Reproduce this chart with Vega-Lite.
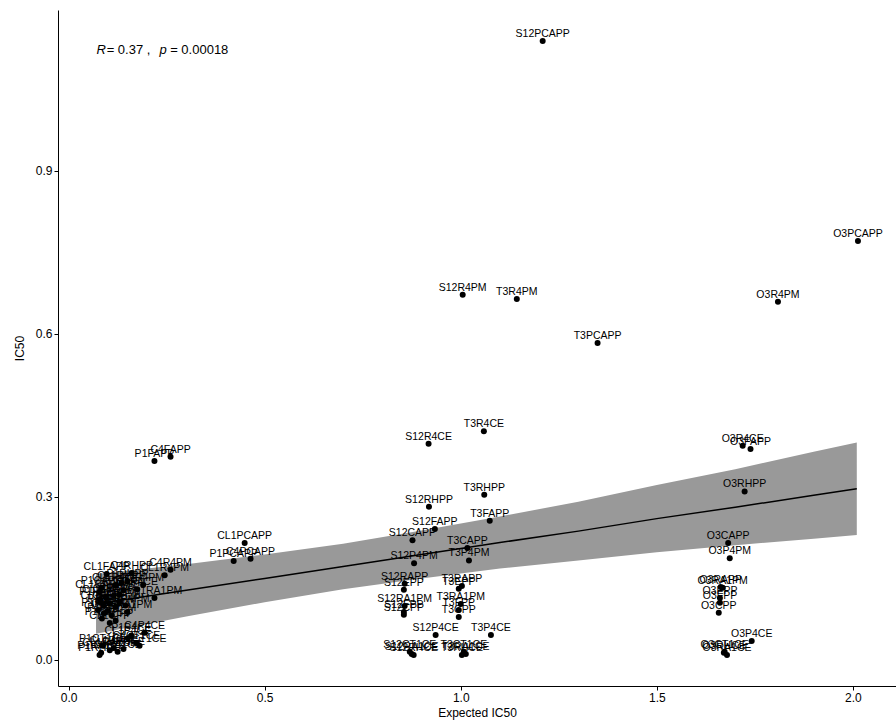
{
  "$schema": "https://vega.github.io/schema/vega-lite/v6.json",
  "width": 838,
  "height": 676,
  "autosize": {"type": "none"},
  "padding": {"left": 58, "top": 10, "right": 0, "bottom": 38},
  "background": "white",
  "config": {
    "view": {"stroke": null},
    "font": "Liberation Sans",
    "axis": {
      "grid": false,
      "domainColor": "#000000",
      "domainWidth": 1,
      "tickColor": "#000000",
      "tickWidth": 1,
      "tickSize": 4,
      "labelColor": "#000000",
      "labelFontSize": 12,
      "labelFont": "Liberation Sans",
      "labelPadding": 2,
      "titleColor": "#000000",
      "titleFontSize": 12,
      "titleFont": "Liberation Sans",
      "titleFontWeight": "normal"
    }
  },
  "datasets": {
    "pts": [
      {"label": "S12PCAPP", "x": 1.209, "y": 1.139},
      {"label": "S12R4PM", "x": 1.005, "y": 0.672},
      {"label": "S12R4CE", "x": 0.918, "y": 0.398},
      {"label": "S12RHPP", "x": 0.919, "y": 0.282},
      {"label": "S12FAPP", "x": 0.934, "y": 0.241},
      {"label": "S12CAPP", "x": 0.877, "y": 0.220},
      {"label": "S12P4PM", "x": 0.881, "y": 0.178},
      {"label": "S12RAPP", "x": 0.857, "y": 0.140},
      {"label": "S12EPP", "x": 0.855, "y": 0.129},
      {"label": "S12RA1PM", "x": 0.857, "y": 0.099},
      {"label": "S12FPP", "x": 0.855, "y": 0.088},
      {"label": "S12CPP", "x": 0.855, "y": 0.083},
      {"label": "S12P4CE", "x": 0.936, "y": 0.046},
      {"label": "S12CT1CE", "x": 0.870, "y": 0.015},
      {"label": "S12RA1CE", "x": 0.875, "y": 0.011},
      {"label": "S12RHCE", "x": 0.880, "y": 0.009},
      {"label": "T3PCAPP", "x": 1.349, "y": 0.583},
      {"label": "T3R4PM", "x": 1.143, "y": 0.664},
      {"label": "T3R4CE", "x": 1.059, "y": 0.421},
      {"label": "T3RHPP", "x": 1.060, "y": 0.304},
      {"label": "T3FAPP", "x": 1.074, "y": 0.256},
      {"label": "T3CAPP", "x": 1.017, "y": 0.206},
      {"label": "T3P4PM", "x": 1.021, "y": 0.183},
      {"label": "T3RAPP", "x": 1.003, "y": 0.136},
      {"label": "T3EPP", "x": 0.995, "y": 0.131},
      {"label": "T3RA1PM", "x": 1.000, "y": 0.103},
      {"label": "T3FPP", "x": 0.995, "y": 0.092},
      {"label": "T3CPP", "x": 0.995, "y": 0.079},
      {"label": "T3P4CE", "x": 1.077, "y": 0.046},
      {"label": "T3CT1CE", "x": 1.008, "y": 0.015},
      {"label": "T3RA1CE", "x": 1.013, "y": 0.011},
      {"label": "T3RHCE", "x": 1.003, "y": 0.009},
      {"label": "O3PCAPP", "x": 2.013, "y": 0.771},
      {"label": "O3R4PM", "x": 1.809, "y": 0.659},
      {"label": "O3R4CE", "x": 1.719, "y": 0.394},
      {"label": "O3FAPP", "x": 1.739, "y": 0.388},
      {"label": "O3RHPP", "x": 1.724, "y": 0.310},
      {"label": "O3CAPP", "x": 1.682, "y": 0.215},
      {"label": "O3P4PM", "x": 1.686, "y": 0.187},
      {"label": "O3RAPP", "x": 1.663, "y": 0.134},
      {"label": "O3RA1PM", "x": 1.668, "y": 0.133},
      {"label": "O3EPP", "x": 1.661, "y": 0.114},
      {"label": "O3FPP", "x": 1.661, "y": 0.105},
      {"label": "O3CPP", "x": 1.658, "y": 0.087},
      {"label": "O3P4CE", "x": 1.742, "y": 0.035},
      {"label": "O3CT1CE", "x": 1.673, "y": 0.015},
      {"label": "O3RA1CE", "x": 1.679, "y": 0.009},
      {"label": "O3RHCE", "x": 1.671, "y": 0.013},
      {"label": "P1PCAPP", "x": 0.421, "y": 0.182},
      {"label": "P1FAPP", "x": 0.219, "y": 0.366},
      {"label": "P1R4PM", "x": 0.190, "y": 0.138},
      {"label": "P1R4CE", "x": 0.130, "y": 0.120},
      {"label": "P1RHPP", "x": 0.150, "y": 0.145},
      {"label": "P1CAPP", "x": 0.084, "y": 0.133},
      {"label": "P1P4PM", "x": 0.120, "y": 0.098},
      {"label": "P1RAPP", "x": 0.080, "y": 0.112},
      {"label": "P1EPP", "x": 0.090, "y": 0.100},
      {"label": "P1RA1PM", "x": 0.110, "y": 0.082},
      {"label": "P1FPP", "x": 0.075, "y": 0.092},
      {"label": "P1CPP", "x": 0.085, "y": 0.076},
      {"label": "P1P4CE", "x": 0.160, "y": 0.045},
      {"label": "P1CT1CE", "x": 0.087, "y": 0.026},
      {"label": "P1RA1CE", "x": 0.083, "y": 0.013},
      {"label": "P1RHCE", "x": 0.079, "y": 0.009},
      {"label": "C4PCAPP", "x": 0.464, "y": 0.186},
      {"label": "C4FAPP", "x": 0.260, "y": 0.374},
      {"label": "C4R4PM", "x": 0.260, "y": 0.166},
      {"label": "C4RHPP", "x": 0.161, "y": 0.160},
      {"label": "C4R4CE", "x": 0.175, "y": 0.130},
      {"label": "C4CAPP", "x": 0.140, "y": 0.128},
      {"label": "C4P4PM", "x": 0.130, "y": 0.108},
      {"label": "C4RAPP", "x": 0.115, "y": 0.118},
      {"label": "C4EPP", "x": 0.105, "y": 0.104},
      {"label": "C4RA1PM", "x": 0.150, "y": 0.088},
      {"label": "C4FPP", "x": 0.100, "y": 0.090},
      {"label": "C4CPP", "x": 0.120, "y": 0.072},
      {"label": "C4P4CE", "x": 0.194, "y": 0.050},
      {"label": "C4CT1CE", "x": 0.173, "y": 0.031},
      {"label": "C4RA1CE", "x": 0.125, "y": 0.015},
      {"label": "C4RHCE", "x": 0.140, "y": 0.020},
      {"label": "CL1PCAPP", "x": 0.449, "y": 0.215},
      {"label": "CL1FAPP", "x": 0.097, "y": 0.158},
      {"label": "CL1R4PM", "x": 0.245, "y": 0.156},
      {"label": "CL1R4CE", "x": 0.120, "y": 0.138},
      {"label": "CL1RHPP", "x": 0.135, "y": 0.142},
      {"label": "CL1CAPP", "x": 0.078, "y": 0.125},
      {"label": "CL1P4PM", "x": 0.145, "y": 0.100},
      {"label": "CL1RAPP", "x": 0.095, "y": 0.115},
      {"label": "CL1EPP", "x": 0.082, "y": 0.105},
      {"label": "CL1RA1PM", "x": 0.219, "y": 0.114},
      {"label": "CL1FPP", "x": 0.090, "y": 0.086},
      {"label": "CL1CPP", "x": 0.105, "y": 0.068},
      {"label": "CL1P4CE", "x": 0.151, "y": 0.040},
      {"label": "CL1CT1CE", "x": 0.181, "y": 0.026},
      {"label": "CL1RA1CE", "x": 0.105, "y": 0.018},
      {"label": "CL1RHCE", "x": 0.115, "y": 0.022}
    ],
    "band": [
      {"x": 0.07, "fit": 0.103, "lo": 0.048, "hi": 0.158},
      {"x": 0.3, "fit": 0.128, "lo": 0.080, "hi": 0.176},
      {"x": 0.5, "fit": 0.150, "lo": 0.106, "hi": 0.194},
      {"x": 0.7, "fit": 0.172, "lo": 0.130, "hi": 0.214},
      {"x": 0.9, "fit": 0.194, "lo": 0.150, "hi": 0.238},
      {"x": 1.1, "fit": 0.216, "lo": 0.168, "hi": 0.264},
      {"x": 1.3, "fit": 0.237, "lo": 0.183, "hi": 0.291},
      {"x": 1.5, "fit": 0.260, "lo": 0.198, "hi": 0.322},
      {"x": 1.7, "fit": 0.281, "lo": 0.211, "hi": 0.351},
      {"x": 1.9, "fit": 0.303, "lo": 0.223, "hi": 0.383},
      {"x": 2.01, "fit": 0.315, "lo": 0.230, "hi": 0.400}
    ],
    "annItalic": [
      {"x": 0.071, "y": 1.123, "t": "R"},
      {"x": 0.232, "y": 1.123, "t": "p"}
    ],
    "annPlain": [
      {"x": 0.097, "y": 1.123, "t": "= 0.37 ,"},
      {"x": 0.259, "y": 1.123, "t": "= 0.00018"}
    ]
  },
  "layer": [
    {
      "data": {"name": "band"},
      "mark": {"type": "area", "color": "#999999", "opacity": 1},
      "encoding": {
        "x": {"field": "x", "type": "quantitative", "scale": {"domain": [-0.027, 2.11], "nice": false, "zero": false},
              "axis": {"values": [0, 0.5, 1, 1.5, 2], "format": ".1f", "title": "Expected IC50", "titlePadding": 4}},
        "y": {"field": "lo", "type": "quantitative", "scale": {"domain": [-0.048, 1.196], "nice": false, "zero": false},
              "axis": {"values": [0, 0.3, 0.6, 0.9], "format": ".1f", "title": "IC50", "titlePadding": 9}, "title": "IC50"},
        "y2": {"field": "hi"}
      }
    },
    {
      "data": {"name": "band"},
      "mark": {"type": "line", "color": "#000000", "strokeWidth": 1.5},
      "encoding": {
        "x": {"field": "x", "type": "quantitative", "title": "Expected IC50"},
        "y": {"field": "fit", "type": "quantitative", "title": "IC50"}
      }
    },
    {
      "data": {"name": "pts"},
      "mark": {"type": "circle", "color": "#000000", "opacity": 1, "size": 36},
      "encoding": {
        "x": {"field": "x", "type": "quantitative", "title": "Expected IC50"},
        "y": {"field": "y", "type": "quantitative", "title": "IC50"}
      }
    },
    {
      "data": {"name": "pts"},
      "mark": {"type": "text", "color": "#000000", "fontSize": 10.5, "font": "Liberation Sans", "dy": -7, "baseline": "middle", "align": "center"},
      "encoding": {
        "x": {"field": "x", "type": "quantitative", "title": "Expected IC50"},
        "y": {"field": "y", "type": "quantitative", "title": "IC50"},
        "text": {"field": "label"}
      }
    },
    {
      "data": {"name": "annItalic"},
      "mark": {"type": "text", "color": "#000000", "fontSize": 13, "font": "Liberation Sans", "fontStyle": "italic", "align": "left", "baseline": "middle"},
      "encoding": {
        "x": {"field": "x", "type": "quantitative", "title": "Expected IC50"},
        "y": {"field": "y", "type": "quantitative", "title": "IC50"},
        "text": {"field": "t"}
      }
    },
    {
      "data": {"name": "annPlain"},
      "mark": {"type": "text", "color": "#000000", "fontSize": 13, "font": "Liberation Sans", "align": "left", "baseline": "middle"},
      "encoding": {
        "x": {"field": "x", "type": "quantitative", "title": "Expected IC50"},
        "y": {"field": "y", "type": "quantitative", "title": "IC50"},
        "text": {"field": "t"}
      }
    }
  ]
}
